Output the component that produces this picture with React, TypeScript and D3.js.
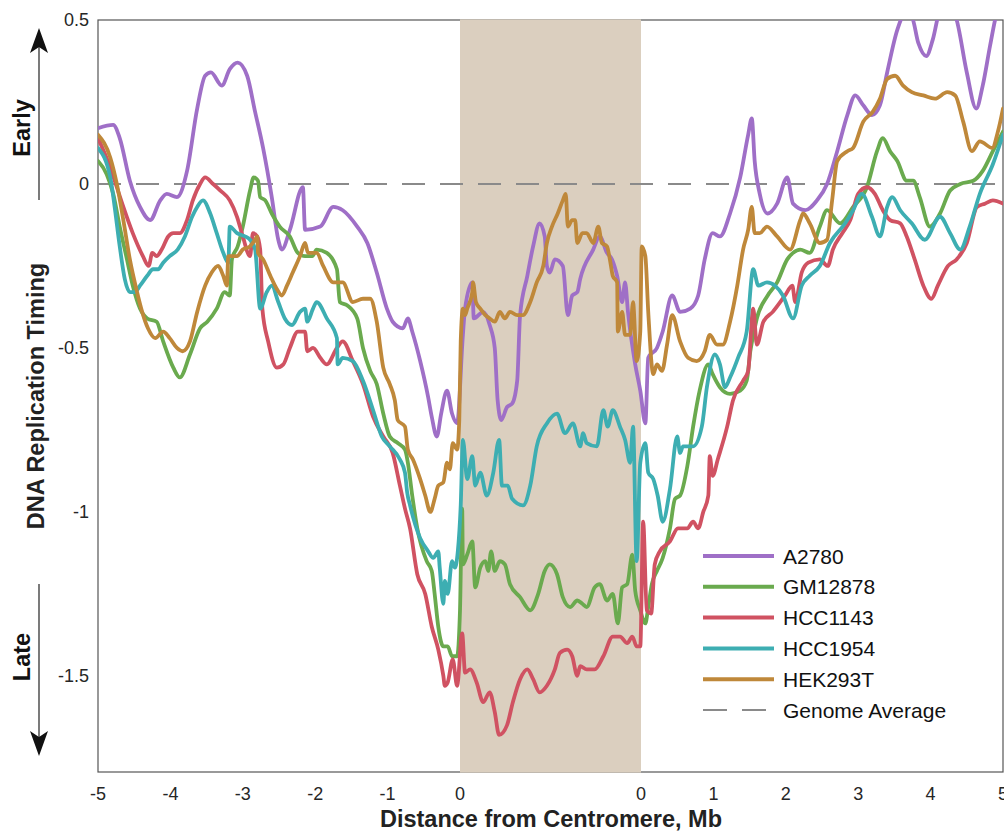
import React from "react";
import * as d3 from "d3";

// Position coordinate: left arm -5..0 Mb, centromere block spans 0..2.5, right arm 2.5..7.5 (= 0..5 Mb)
const xTickPos = [-5, -4, -3, -2, -1, 0, 2.5, 3.5, 4.5, 5.5, 6.5, 7.5];
const xTickLabels = ["-5", "-4", "-3", "-2", "-1", "0", "0", "1", "2", "3", "4", "5"];
const yTicks = [0.5, 0, -0.5, -1, -1.5];
const yTickLabels = ["0.5", "0", "-0.5", "-1", "-1.5"];
const centromere = [0, 2.5];
const genomeAverage = 0;

const seriesNames = ["A2780", "GM12878", "HCC1143", "HCC1954", "HEK293T"];
const seriesColors = ["#9f6fc7", "#6aaa4e", "#d05262", "#3daeb2", "#bf883a"];

const a2780: [number, number][] = [[-5.00,0.17],[-4.79,0.18],[-4.70,0.14],[-4.56,0.01],[-4.42,-0.07],[-4.28,-0.11],[-4.14,-0.05],[-4.05,-0.03],[-3.91,-0.04],[-3.77,0.04],[-3.63,0.23],[-3.52,0.33],[-3.44,0.34],[-3.29,0.30],[-3.18,0.35],[-3.07,0.37],[-2.94,0.33],[-2.83,0.22],[-2.72,0.11],[-2.60,-0.04],[-2.51,-0.17],[-2.46,-0.20],[-2.35,-0.14],[-2.17,-0.01],[-2.14,-0.14],[-1.93,-0.13],[-1.75,-0.07],[-1.62,-0.08],[-1.42,-0.13],[-1.28,-0.18],[-1.15,-0.27],[-1.01,-0.38],[-0.93,-0.42],[-0.79,-0.44],[-0.72,-0.41],[-0.66,-0.45],[-0.55,-0.54],[-0.44,-0.65],[-0.39,-0.71],[-0.32,-0.77],[-0.26,-0.70],[-0.18,-0.63],[-0.11,-0.70],[-0.04,-0.73],[0.04,-0.46],[0.07,-0.38],[0.17,-0.30],[0.19,-0.41],[0.32,-0.39],[0.41,-0.43],[0.48,-0.50],[0.52,-0.66],[0.57,-0.72],[0.65,-0.68],[0.72,-0.67],[0.79,-0.60],[0.83,-0.40],[0.93,-0.28],[1.01,-0.19],[1.10,-0.12],[1.17,-0.16],[1.20,-0.25],[1.24,-0.27],[1.31,-0.23],[1.42,-0.25],[1.49,-0.40],[1.55,-0.34],[1.62,-0.33],[1.66,-0.29],[1.84,-0.20],[1.93,-0.16],[2.03,-0.21],[2.10,-0.23],[2.17,-0.28],[2.24,-0.36],[2.28,-0.30],[2.32,-0.39],[2.42,-0.55],[2.49,-0.63],[2.56,-0.73],[2.60,-0.53],[2.72,-0.50],[2.80,-0.45],[2.93,-0.34],[3.04,-0.39],[3.18,-0.38],[3.29,-0.34],[3.38,-0.23],[3.49,-0.15],[3.59,-0.16],[3.73,-0.09],[3.87,0.02],[3.98,0.15],[4.03,0.20],[4.07,0.07],[4.14,-0.03],[4.25,-0.09],[4.38,-0.06],[4.52,0.02],[4.60,-0.06],[4.77,-0.08],[4.93,-0.05],[5.07,0.00],[5.21,0.10],[5.35,0.21],[5.46,0.27],[5.57,0.24],[5.69,0.21],[5.80,0.24],[5.90,0.34],[6.04,0.47],[6.15,0.52],[6.24,0.51],[6.33,0.43],[6.44,0.39],[6.53,0.44],[6.63,0.53],[6.74,0.55],[6.86,0.50],[7.00,0.34],[7.13,0.23],[7.22,0.30],[7.32,0.42],[7.39,0.50],[7.50,0.59]];

const gm12878: [number, number][] = [[-5.00,0.07],[-4.88,0.03],[-4.79,-0.03],[-4.70,-0.13],[-4.60,-0.23],[-4.52,-0.31],[-4.42,-0.38],[-4.32,-0.41],[-4.19,-0.42],[-4.10,-0.48],[-3.96,-0.56],[-3.87,-0.59],[-3.73,-0.52],[-3.59,-0.44],[-3.49,-0.42],[-3.36,-0.38],[-3.25,-0.33],[-3.18,-0.34],[-3.15,-0.23],[-3.07,-0.19],[-3.00,-0.13],[-2.90,-0.02],[-2.85,0.02],[-2.79,0.01],[-2.76,-0.04],[-2.69,-0.05],[-2.60,-0.09],[-2.49,-0.13],[-2.35,-0.16],[-2.24,-0.21],[-2.14,-0.22],[-2.04,-0.22],[-1.98,-0.20],[-1.84,-0.21],[-1.70,-0.26],[-1.66,-0.36],[-1.56,-0.37],[-1.42,-0.41],[-1.34,-0.50],[-1.24,-0.57],[-1.15,-0.61],[-1.06,-0.70],[-0.97,-0.77],[-0.86,-0.79],[-0.76,-0.81],[-0.72,-0.85],[-0.66,-0.95],[-0.59,-1.05],[-0.46,-1.15],[-0.39,-1.18],[-0.35,-1.25],[-0.30,-1.35],[-0.23,-1.41],[-0.17,-1.41],[-0.11,-1.44],[-0.04,-1.44],[0.00,-1.30],[0.03,-0.99],[0.04,-1.16],[0.10,-1.13],[0.17,-1.09],[0.21,-1.23],[0.28,-1.17],[0.35,-1.15],[0.39,-1.18],[0.43,-1.12],[0.48,-1.18],[0.55,-1.15],[0.62,-1.16],[0.69,-1.22],[0.83,-1.26],[0.97,-1.30],[1.08,-1.25],[1.17,-1.18],[1.24,-1.16],[1.34,-1.19],[1.42,-1.26],[1.52,-1.29],[1.62,-1.27],[1.69,-1.28],[1.75,-1.29],[1.86,-1.23],[1.93,-1.22],[2.03,-1.27],[2.11,-1.25],[2.18,-1.34],[2.24,-1.23],[2.31,-1.22],[2.38,-1.13],[2.42,-1.24],[2.49,-1.30],[2.56,-1.34],[2.60,-1.29],[2.65,-1.22],[2.72,-1.18],[2.80,-1.14],[2.90,-1.05],[2.97,-0.96],[3.04,-0.95],[3.14,-0.86],[3.22,-0.74],[3.31,-0.63],[3.43,-0.55],[3.49,-0.58],[3.59,-0.62],[3.73,-0.64],[3.87,-0.63],[3.96,-0.60],[4.01,-0.51],[4.10,-0.41],[4.25,-0.34],[4.38,-0.30],[4.52,-0.23],[4.60,-0.21],[4.70,-0.20],[4.83,-0.21],[4.97,-0.13],[5.07,-0.08],[5.25,-0.12],[5.43,-0.07],[5.62,-0.01],[5.76,0.10],[5.84,0.14],[5.94,0.10],[6.04,0.07],[6.17,0.01],[6.26,0.01],[6.35,-0.04],[6.49,-0.13],[6.63,-0.09],[6.77,-0.02],[6.91,0.00],[7.09,0.01],[7.22,0.04],[7.36,0.10],[7.50,0.16]];

const hcc1143: [number, number][] = [[-5.00,0.14],[-4.83,0.05],[-4.74,-0.01],[-4.65,-0.07],[-4.52,-0.15],[-4.38,-0.22],[-4.30,-0.25],[-4.25,-0.21],[-4.19,-0.22],[-4.12,-0.20],[-4.03,-0.16],[-3.96,-0.15],[-3.87,-0.15],[-3.77,-0.11],[-3.69,-0.05],[-3.59,0.00],[-3.52,0.02],[-3.41,0.00],[-3.31,-0.02],[-3.18,-0.05],[-3.08,-0.10],[-3.00,-0.16],[-2.90,-0.22],[-2.86,-0.15],[-2.80,-0.16],[-2.76,-0.20],[-2.73,-0.38],[-2.65,-0.48],[-2.53,-0.56],[-2.44,-0.55],[-2.35,-0.50],[-2.24,-0.45],[-2.14,-0.45],[-2.11,-0.51],[-2.03,-0.50],[-1.93,-0.53],[-1.84,-0.55],[-1.70,-0.50],[-1.62,-0.48],[-1.48,-0.54],[-1.34,-0.61],[-1.20,-0.71],[-1.06,-0.77],[-0.93,-0.82],[-0.83,-0.92],[-0.76,-0.99],[-0.69,-1.05],[-0.59,-1.19],[-0.48,-1.25],[-0.39,-1.35],[-0.30,-1.42],[-0.23,-1.50],[-0.21,-1.53],[-0.17,-1.52],[-0.10,-1.45],[-0.04,-1.53],[0.03,-1.37],[0.07,-1.49],[0.14,-1.48],[0.23,-1.52],[0.32,-1.58],[0.41,-1.55],[0.48,-1.61],[0.54,-1.68],[0.65,-1.65],[0.73,-1.58],[0.83,-1.51],[0.93,-1.48],[1.01,-1.51],[1.10,-1.55],[1.20,-1.53],[1.31,-1.48],[1.38,-1.43],[1.48,-1.42],[1.55,-1.44],[1.62,-1.50],[1.66,-1.47],[1.75,-1.48],[1.86,-1.48],[1.98,-1.44],[2.11,-1.38],[2.21,-1.38],[2.31,-1.40],[2.38,-1.38],[2.44,-1.41],[2.49,-1.41],[2.53,-1.03],[2.58,-1.30],[2.64,-1.31],[2.69,-1.16],[2.76,-1.12],[2.90,-1.09],[3.01,-1.05],[3.14,-1.05],[3.22,-1.03],[3.29,-1.05],[3.36,-1.00],[3.43,-0.95],[3.45,-0.83],[3.49,-0.89],[3.56,-0.84],[3.69,-0.74],[3.77,-0.66],[3.91,-0.60],[3.98,-0.57],[4.05,-0.38],[4.10,-0.49],[4.19,-0.42],[4.32,-0.39],[4.49,-0.34],[4.59,-0.31],[4.63,-0.36],[4.72,-0.27],[4.81,-0.24],[4.97,-0.23],[5.08,-0.25],[5.15,-0.20],[5.28,-0.15],[5.39,-0.11],[5.50,-0.03],[5.62,-0.01],[5.73,-0.03],[5.84,-0.08],[5.94,-0.11],[6.08,-0.12],[6.17,-0.16],[6.28,-0.23],[6.40,-0.31],[6.51,-0.35],[6.60,-0.31],[6.74,-0.25],[6.86,-0.23],[7.00,-0.18],[7.14,-0.07],[7.25,-0.06],[7.36,-0.05],[7.50,-0.06]];

const hcc1954: [number, number][] = [[-5.00,0.11],[-4.83,0.02],[-4.77,-0.07],[-4.70,-0.19],[-4.63,-0.29],[-4.56,-0.33],[-4.49,-0.33],[-4.42,-0.31],[-4.32,-0.28],[-4.24,-0.26],[-4.17,-0.26],[-4.10,-0.24],[-4.01,-0.22],[-3.90,-0.20],[-3.80,-0.16],[-3.70,-0.10],[-3.63,-0.07],[-3.55,-0.05],[-3.45,-0.09],[-3.36,-0.15],[-3.27,-0.21],[-3.20,-0.24],[-3.18,-0.13],[-3.08,-0.15],[-2.97,-0.16],[-2.90,-0.17],[-2.83,-0.20],[-2.76,-0.38],[-2.67,-0.33],[-2.60,-0.31],[-2.51,-0.36],[-2.42,-0.41],[-2.32,-0.43],[-2.21,-0.39],[-2.14,-0.38],[-2.11,-0.42],[-2.03,-0.38],[-1.98,-0.36],[-1.84,-0.41],[-1.70,-0.47],[-1.69,-0.55],[-1.62,-0.53],[-1.48,-0.54],[-1.34,-0.60],[-1.20,-0.69],[-1.08,-0.77],[-0.97,-0.80],[-0.83,-0.84],[-0.76,-0.88],[-0.73,-0.94],[-0.69,-0.98],[-0.55,-1.08],[-0.44,-1.12],[-0.37,-1.14],[-0.30,-1.12],[-0.28,-1.17],[-0.23,-1.28],[-0.21,-1.21],[-0.17,-1.25],[-0.11,-1.15],[-0.07,-1.17],[-0.03,-1.12],[0.01,-0.98],[0.04,-0.78],[0.10,-0.90],[0.17,-0.83],[0.21,-0.92],[0.28,-0.88],[0.37,-0.95],[0.46,-0.88],[0.54,-0.78],[0.58,-0.92],[0.66,-0.92],[0.72,-0.96],[0.87,-0.98],[0.97,-0.92],[1.06,-0.80],[1.20,-0.73],[1.34,-0.70],[1.45,-0.76],[1.56,-0.73],[1.66,-0.80],[1.70,-0.76],[1.75,-0.79],[1.89,-0.80],[1.98,-0.69],[2.04,-0.74],[2.11,-0.69],[2.21,-0.74],[2.28,-0.78],[2.35,-0.85],[2.39,-0.74],[2.44,-1.15],[2.49,-0.85],[2.56,-0.79],[2.60,-0.88],[2.67,-0.90],[2.73,-0.95],[2.80,-1.03],[2.90,-0.93],[3.00,-0.77],[3.04,-0.82],[3.08,-0.80],[3.22,-0.80],[3.34,-0.74],[3.41,-0.62],[3.52,-0.52],[3.59,-0.55],[3.66,-0.62],[3.73,-0.59],[3.84,-0.53],[3.96,-0.45],[4.05,-0.26],[4.12,-0.31],[4.24,-0.30],[4.35,-0.31],[4.46,-0.34],[4.60,-0.41],[4.72,-0.31],[4.83,-0.28],[4.97,-0.25],[5.11,-0.18],[5.32,-0.12],[5.43,-0.08],[5.55,-0.03],[5.69,-0.10],[5.80,-0.16],[5.90,-0.07],[5.97,-0.04],[6.08,-0.08],[6.24,-0.12],[6.42,-0.17],[6.63,-0.10],[6.77,-0.15],[6.91,-0.20],[7.04,-0.13],[7.18,-0.03],[7.36,0.06],[7.50,0.15]];

const hek293t: [number, number][] = [[-5.00,0.15],[-4.83,0.08],[-4.74,0.00],[-4.65,-0.11],[-4.56,-0.23],[-4.46,-0.33],[-4.39,-0.39],[-4.31,-0.44],[-4.21,-0.47],[-4.10,-0.45],[-4.01,-0.47],[-3.91,-0.50],[-3.83,-0.51],[-3.73,-0.48],[-3.63,-0.39],[-3.52,-0.31],[-3.43,-0.27],[-3.34,-0.25],[-3.27,-0.28],[-3.22,-0.31],[-3.20,-0.22],[-3.08,-0.22],[-3.00,-0.20],[-2.90,-0.19],[-2.83,-0.17],[-2.80,-0.16],[-2.79,-0.21],[-2.72,-0.23],[-2.62,-0.28],[-2.53,-0.32],[-2.46,-0.34],[-2.39,-0.31],[-2.31,-0.27],[-2.21,-0.22],[-2.14,-0.18],[-2.10,-0.21],[-1.98,-0.21],[-1.89,-0.25],[-1.75,-0.30],[-1.62,-0.30],[-1.48,-0.36],[-1.34,-0.35],[-1.24,-0.35],[-1.15,-0.42],[-1.06,-0.56],[-0.97,-0.61],[-0.90,-0.66],[-0.86,-0.72],[-0.76,-0.74],[-0.72,-0.81],[-0.65,-0.84],[-0.55,-0.90],[-0.48,-0.95],[-0.41,-1.00],[-0.35,-0.96],[-0.30,-0.92],[-0.23,-0.91],[-0.18,-0.85],[-0.14,-0.87],[-0.10,-0.79],[-0.04,-0.81],[-0.01,-0.72],[0.01,-0.48],[0.04,-0.38],[0.07,-0.40],[0.10,-0.38],[0.17,-0.33],[0.18,-0.30],[0.22,-0.36],[0.28,-0.38],[0.35,-0.40],[0.41,-0.41],[0.48,-0.42],[0.55,-0.39],[0.62,-0.41],[0.69,-0.39],[0.79,-0.40],[0.87,-0.40],[0.97,-0.36],[1.06,-0.30],[1.15,-0.25],[1.20,-0.18],[1.27,-0.13],[1.35,-0.09],[1.42,-0.05],[1.46,-0.03],[1.49,-0.13],[1.55,-0.11],[1.59,-0.11],[1.62,-0.18],[1.69,-0.15],[1.75,-0.15],[1.84,-0.18],[1.91,-0.13],[1.96,-0.18],[2.03,-0.19],[2.07,-0.23],[2.11,-0.28],[2.17,-0.30],[2.18,-0.45],[2.24,-0.39],[2.28,-0.46],[2.35,-0.46],[2.39,-0.36],[2.44,-0.54],[2.49,-0.45],[2.51,-0.19],[2.56,-0.22],[2.60,-0.39],[2.67,-0.58],[2.72,-0.55],[2.79,-0.57],[2.86,-0.49],[2.93,-0.40],[3.04,-0.48],[3.15,-0.53],[3.27,-0.54],[3.38,-0.51],[3.45,-0.46],[3.55,-0.49],[3.63,-0.49],[3.73,-0.42],[3.83,-0.31],[3.91,-0.20],[3.98,-0.14],[4.03,-0.07],[4.07,-0.15],[4.14,-0.15],[4.24,-0.13],[4.38,-0.16],[4.56,-0.20],[4.70,-0.11],[4.74,-0.09],[4.83,-0.12],[4.97,-0.18],[5.07,-0.17],[5.14,-0.05],[5.21,0.07],[5.35,0.10],[5.43,0.11],[5.57,0.19],[5.70,0.22],[5.80,0.26],[5.90,0.32],[6.01,0.33],[6.12,0.30],[6.24,0.28],[6.40,0.27],[6.56,0.26],[6.73,0.28],[6.84,0.27],[6.95,0.19],[7.07,0.10],[7.18,0.13],[7.35,0.11],[7.43,0.16],[7.50,0.23]];

const seriesData = [a2780, gm12878, hcc1143, hcc1954, hek293t];

const W = 1004;
const H = 832;
const FONT = "'Liberation Sans', Arial, Helvetica, sans-serif";

export default function App() {
  const x = d3.scaleLinear().domain([-5, 7.5]).range([98, 1003]);
  const y = d3.scaleLinear().domain([-1.793, 0.5]).range([772, 20]);
  const line = d3
    .line<[number, number]>()
    .x((d) => x(d[0]))
    .y((d) => y(d[1]))
    .curve(d3.curveMonotoneX);

  const [x0, x1] = x.range();
  const [yb, yt] = y.range();
  const legendX = 703;
  const legendY0 = 556;
  const legendStep = 30.8;

  return (
    <svg
      width={W}
      height={H}
      style={{ position: "absolute", left: 0, top: 0, background: "#fff" }}
      fontFamily={FONT}
    >
      <defs>
        <clipPath id="plotclip">
          <rect x={x0} y={yt} width={x1 - x0} height={yb - yt} />
        </clipPath>
      </defs>
      <rect x={0} y={0} width={W} height={H} fill="#fff" />
      {/* axes box */}
      <rect x={x0} y={yt} width={x1 - x0} height={yb - yt} fill="none" stroke="#555" strokeWidth={1.2} />
      {/* centromere shading */}
      <rect
        x={x(centromere[0])}
        y={yt - 0.6}
        width={x(centromere[1]) - x(centromere[0])}
        height={yb - yt + 1.2}
        fill="#dbcfbf"
      />
      {/* genome average */}
      <line x1={x0} x2={x1} y1={y(genomeAverage)} y2={y(genomeAverage)} stroke="#8a8a8a" strokeWidth={2} strokeDasharray="23 15" />
      <g clipPath="url(#plotclip)">
        {seriesData.map((d, i) => (
          <path key={seriesNames[i]} d={line(d) || ""} fill="none" stroke={seriesColors[i]} strokeWidth={3.8} strokeLinejoin="round" strokeLinecap="round" />
        ))}
      </g>
      {/* y tick labels */}
      {yTicks.map((t, i) => (
        <text key={"y" + i} x={89} y={y(t)} dy="0.35em" textAnchor="end" fontSize={18} fill="#262626">
          {yTickLabels[i]}
        </text>
      ))}
      {/* x tick labels */}
      {xTickPos.map((t, i) => (
        <text key={"x" + i} x={x(t)} y={800} textAnchor="middle" fontSize={18} fill="#262626">
          {xTickLabels[i]}
        </text>
      ))}
      {/* axis titles */}
      <text x={551} y={827} textAnchor="middle" fontSize={23.5} fontWeight="bold" fill="#222">
        Distance from Centromere, Mb
      </text>
      <text transform="translate(44,396) rotate(-90)" textAnchor="middle" fontSize={23.5} fontWeight="bold" fill="#222">
        DNA Replication Timing
      </text>
      {/* Early / Late annotations */}
      <text transform="translate(30,128) rotate(-90)" textAnchor="middle" fontSize={23.5} fontWeight="bold" fill="#111">
        Early
      </text>
      <line x1={39} x2={39} y1={200} y2={46} stroke="#333" strokeWidth={1.3} />
      <path d="M39,28 L48,53 L39,47 L30,53 Z" fill="#111" />
      <text transform="translate(30,657) rotate(-90)" textAnchor="middle" fontSize={23.5} fontWeight="bold" fill="#111">
        Late
      </text>
      <line x1={39} x2={39} y1={584} y2={738} stroke="#333" strokeWidth={1.3} />
      <path d="M39,756 L48,731 L39,737 L30,731 Z" fill="#111" />
      {/* legend */}
      {seriesNames.map((n, i) => (
        <g key={"lg" + n}>
          <line x1={legendX} x2={legendX + 71} y1={legendY0 + i * legendStep} y2={legendY0 + i * legendStep} stroke={seriesColors[i]} strokeWidth={4} />
          <text x={legendX + 80} y={legendY0 + i * legendStep} dy="0.36em" fontSize={21} fill="#111">
            {n}
          </text>
        </g>
      ))}
      <line x1={legendX} x2={legendX + 71} y1={legendY0 + 5 * legendStep} y2={legendY0 + 5 * legendStep} stroke="#8a8a8a" strokeWidth={2} strokeDasharray="24 15" />
      <text x={legendX + 80} y={legendY0 + 5 * legendStep} dy="0.36em" fontSize={21} fill="#111">
        Genome Average
      </text>
    </svg>
  );
}
